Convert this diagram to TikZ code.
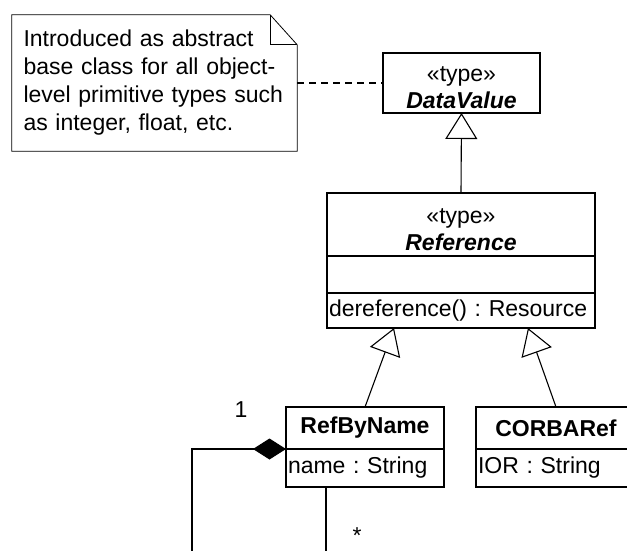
\documentclass[tikz,border=0pt]{standalone}
\usepackage{fontspec}
\setmainfont{Liberation Sans}
\frenchspacing
\usepackage{tikz}
\usetikzlibrary{positioning,arrows.meta,calc}
\tikzset{
  umltxt/.style={font=\fontsize{23}{27}\selectfont},
  head/.style={draw,line width=1.7pt,umltxt,align=center,inner sep=2pt,outer sep=0pt},
  stereo/.style={head,execute at begin node={\rule{0pt}{25pt}}},
  compart/.style={draw,line width=1.7pt,umltxt,align=left,inner sep=2pt,outer sep=0pt},
  memo/.style={font=\fontsize{23}{28}\selectfont,align=left,inner sep=0pt},
  mult/.style={umltxt,inner sep=0pt},
  gen/.style={-{Triangle[open,length=26pt,width=32pt]},line width=1.1pt},
  owns/.style={-{Diamond[length=33pt,width=21pt]},line width=1.1pt},
  link/.style={line width=1.1pt},
}

\begin{document}
\begin{tikzpicture}[x=1pt,y=-1pt]
\useasboundingbox (0,0) rectangle (627,551);
\clip (0,0) rectangle (627,551);

% comment box
\node[memo, minimum width=285pt, minimum height=136pt, text width=262pt] (note) at (154.5,83)
  {Introduced as abstract\\base class for all object-\\level primitive types such\\as integer, float, etc.};
\draw[line width=0.8pt] (note.north west) -- ($(note.north east)+(-27,0)$) -- ($(note.north east)+(0,30)$)
  -- (note.south east) -- (note.south west) -- cycle;
\draw[line width=0.8pt] ($(note.north east)+(-27,0)$) |- ($(note.north east)+(0,30)$);

% classes
\node[stereo, text width=153pt, minimum height=60pt] (dv) at (461.5,83) {«type»\\\textbf{\textit{DataValue}}};
\node[stereo, text width=264pt, minimum height=63pt] (ref) at (461,224.5) {«type»\\\textbf{\textit{Reference}}};
\node[compart, text width=264pt, minimum height=37pt, below=0pt of ref] (refattr) {};
\node[compart, text width=264pt, minimum height=35pt, below=0pt of refattr] (refops) {dereference() : Resource};
\node[head, text width=154pt, minimum height=42pt] (rbn) at (365,428) {\textbf{RefByName}};
\node[compart, text width=154pt, minimum height=38pt, below=0pt of rbn] (rbnattr) {name : String};
\node[head, text width=156pt, minimum height=42pt] (corba) at (556,428) {\textbf{CORBARef}};
\node[compart, text width=156pt, minimum height=38pt, below=0pt of corba] (corbaattr) {IOR : String};

% relations
\draw[link, dash pattern=on 7pt off 5pt] (note.east |- dv.west) -- (dv.west);
\draw[gen] (ref.north) -- (dv.south);
\draw[gen] (rbn.north) -- ($(refops.south)+(-67,0)$);
\draw[gen] (corba.north) -- ($(refops.south)+(67,0)$);

\coordinate (loopl) at (192,551);
\coordinate (loopr) at (326,551);
\draw[owns] (loopl) |- (rbnattr.north west);
\draw[link] (loopr |- rbnattr.south) -- (loopr);
\node[mult] (one) at (241,410) {1};
\node[mult] (many) at (357,536) {*};

\end{tikzpicture}
\end{document}
